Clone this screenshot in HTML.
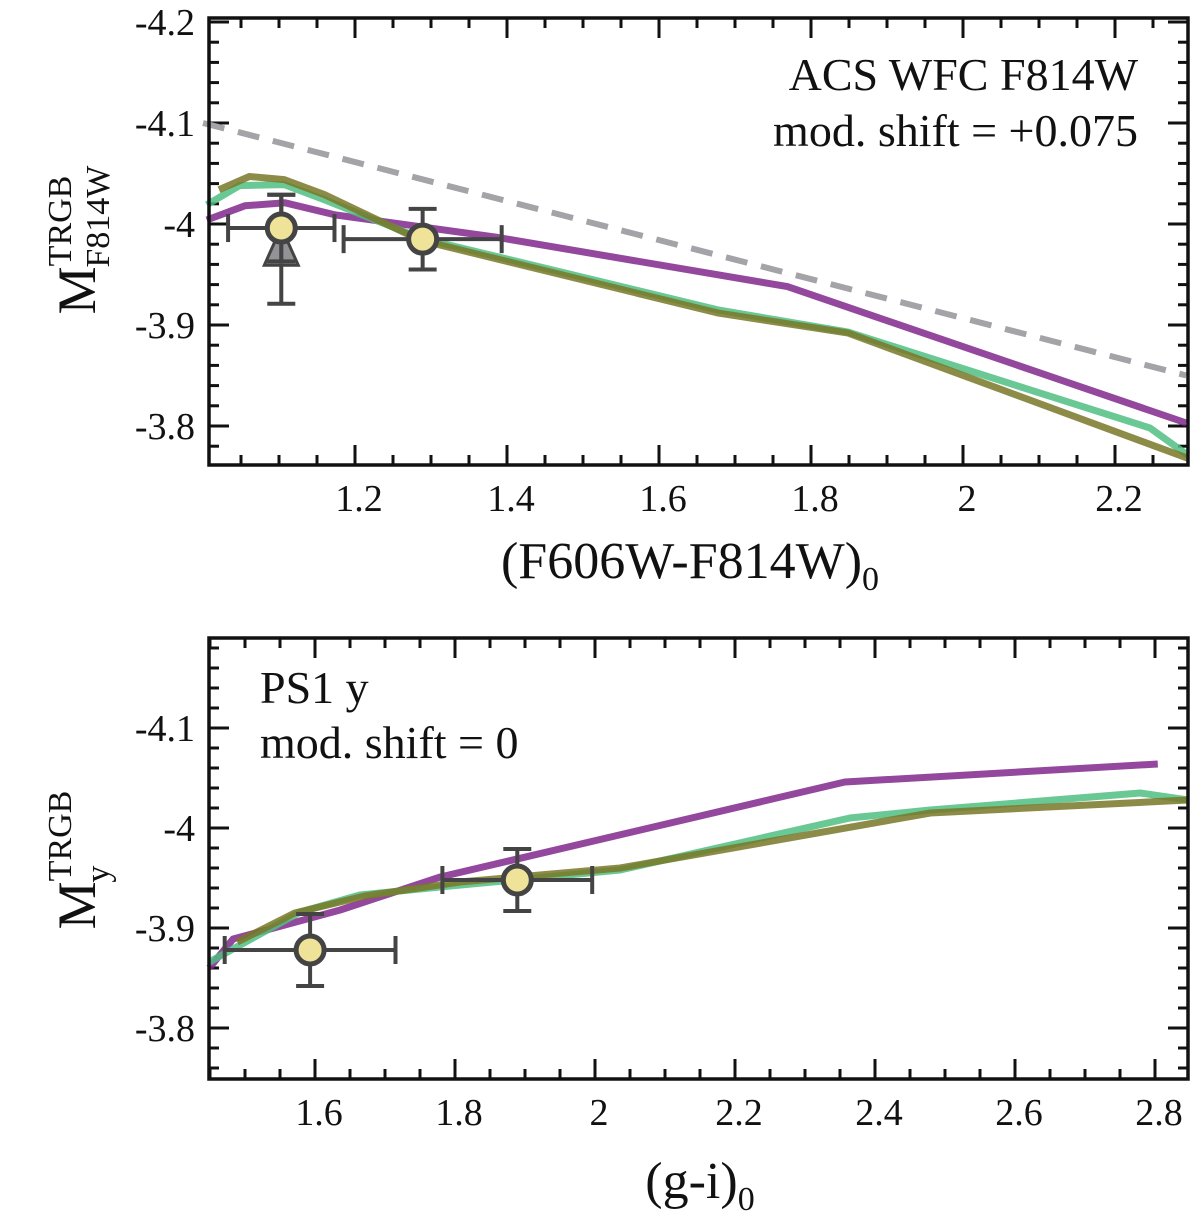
<!DOCTYPE html>
<html><head><meta charset="utf-8"><style>
body{margin:0;background:#fff;}
svg text{font-family:"Liberation Serif",serif;fill:#111;}
</style></head><body>
<svg id="fig" width="1200" height="1214" viewBox="0 0 1200 1214" xmlns="http://www.w3.org/2000/svg" style="position:absolute;left:0;top:0"></svg>
<script>
// ---- Top panel data (F606W-F814W vs M_F814W)
const topPurpleX=[1.005,1.055,1.108,1.174,1.385,1.769,2.294];
const topPurpleY=[-4.004,-4.018,-4.021,-4.009,-3.987,-3.938,-3.803];
const topGreenX=[1.005,1.048,1.107,1.16,1.286,1.677,1.849,2.246,2.296];
const topGreenY=[-4.019,-4.038,-4.039,-4.024,-3.986,-3.915,-3.893,-3.798,-3.771];
const topOliveX=[1.021,1.061,1.107,1.16,1.286,1.677,1.849,2.296];
const topOliveY=[-4.034,-4.047,-4.044,-4.029,-3.984,-3.912,-3.892,-3.768];
const topDashX=[1.0,2.294];
const topDashY=[-4.1,-3.85];
const topPtsX=[1.103,1.289];
const topPtsY=[-3.996,-3.985];
const topPtsXerr=[0.07,0.104];
const topPtsYerr=[0.033,0.03];
const topTriX=[1.103];
const topTriY=[-3.975];
const topTriYerr=[0.054];
const topXTicks=[1.2,1.4,1.6,1.8,2,2.2];
const topYTicks=[-4.2,-4.1,-4,-3.9,-3.8];
const topXLabels=["1.2","1.4","1.6","1.8","2","2.2"];
const topYLabels=["-4.2","-4.1","-4","-3.9","-3.8"];
// ---- Bottom panel data (g-i vs M_y)
const botPurpleX=[1.449,1.483,1.636,1.779,2.357,2.804];
const botPurpleY=[-3.86,-3.889,-3.918,-3.951,-4.046,-4.064];
const botGreenX=[1.449,1.579,1.664,1.793,2.036,2.364,2.479,2.779,2.847];
const botGreenY=[-3.866,-3.916,-3.933,-3.942,-3.958,-4.01,-4.018,-4.035,-4.028];
const botOliveX=[1.489,1.571,1.671,1.807,2.036,2.479,2.847];
const botOliveY=[-3.886,-3.915,-3.932,-3.946,-3.96,-4.015,-4.028];
const botPtsX=[1.593,1.889];
const botPtsY=[-3.878,-3.948];
const botPtsXerr=[0.122,0.107];
const botPtsYerr=[0.036,0.031];
const botXTicks=[1.6,1.8,2,2.2,2.4,2.6,2.8];
const botYTicks=[-4.1,-4,-3.9,-3.8];
const botXLabels=["1.6","1.8","2","2.2","2.4","2.6","2.8"];
const botYLabels=["-4.1","-4","-3.9","-3.8"];

const NS="http://www.w3.org/2000/svg";
const svg=document.getElementById('fig');
function mk(tag,attrs,parent){const e=document.createElementNS(NS,tag);for(const k in attrs)e.setAttribute(k,attrs[k]);(parent||svg).appendChild(e);return e;}

function panel(cfg){
  const g=mk('g',{});
  
  
  const sx=v=>cfg.L+(v-cfg.x0)*cfg.kx;
  const sy=v=>cfg.T+(v-cfg.y0)*cfg.ky;
  const tk=mk('g',{stroke:'#111','stroke-width':3},g);
  
  
  const xmin=cfg.x0, xmax=cfg.x0+(cfg.R-cfg.L)/cfg.kx;
  for(let i=Math.ceil(xmin/0.05);i*0.05<=xmax;i++){
    const v=i*0.05, x=sx(v), major=Math.abs(v*5-Math.round(v*5))<1e-6, len=major?20:10;
    mk('line',{x1:x,y1:cfg.B,x2:x,y2:cfg.B-len},tk);mk('line',{x1:x,y1:cfg.T,x2:x,y2:cfg.T+len},tk);
  }
  const ymin=cfg.y0, ymax=cfg.y0+(cfg.B-cfg.T)/cfg.ky;
  for(let i=Math.ceil(ymin/0.02-1e-6);i*0.02<=ymax+1e-9;i++){
    const v=i*0.02, y=sy(v), major=Math.abs(v*10-Math.round(v*10))<1e-6, len=major?20:10;
    mk('line',{x1:cfg.L,y1:y,x2:cfg.L+len,y2:y},tk);mk('line',{x1:cfg.R,y1:y,x2:cfg.R-len,y2:y},tk);
  }
  cfg.xt.forEach((v,i)=>{const t=mk('text',{x:sx(v)+4,y:cfg.B+46,'font-size':38,'text-anchor':'middle'},g);t.textContent=cfg.xl[i];
    
    });
  cfg.yt.forEach((v,i)=>{const t=mk('text',{x:cfg.L-14,y:sy(v)+13,'font-size':38,'text-anchor':'end'},g);t.textContent=cfg.yl[i];
    
    });
  const line=(xs,ys,col,name,extra)=>{const d=xs.map((x,i)=>(i?'L':'M')+sx(x).toFixed(1)+','+sy(ys[i]).toFixed(1)).join('');
    const p=mk('path',Object.assign({d,fill:'none',stroke:col,'stroke-width':7,'stroke-linejoin':'round'},extra||{}),g);
    
    };
  if(cfg.dash){line(cfg.dash[0],cfg.dash[1],'#a3a3a8','reference-dashed-line',{'stroke-dasharray':'22 14','stroke-width':6});}
  line(cfg.purple[0],cfg.purple[1],'rgba(128,40,140,0.85)','model-line-purple');
  line(cfg.green[0],cfg.green[1],'rgba(80,190,130,0.85)','model-line-green');
  line(cfg.olive[0],cfg.olive[1],'rgba(120,120,40,0.85)','model-line-olive');
  if(cfg.tri){cfg.tri[0].forEach((x,i)=>{const cx=sx(x),cy=sy(cfg.tri[1][i]);
    const eb=mk('g',{stroke:'#444','stroke-width':4},g);
    
    
    const y1=sy(cfg.tri[1][i]-cfg.tri[2][i]),y2=sy(cfg.tri[1][i]+cfg.tri[2][i]);
    mk('line',{x1:cx,y1:y1,x2:cx,y2:y2},eb);mk('line',{x1:cx-14,y1:y1,x2:cx+14,y2:y1},eb);mk('line',{x1:cx-14,y1:y2,x2:cx+14,y2:y2},eb);
    const tp=mk('polygon',{points:`${cx},${cy-22} ${cx-17},${cy+16} ${cx+17},${cy+16}`,fill:'rgba(120,120,125,0.8)',stroke:'#444','stroke-width':3},g);
    
    });}
  cfg.pts[0].forEach((x,i)=>{const y=cfg.pts[1][i],cx=sx(x),cy=sy(y);
    const eb=mk('g',{stroke:'#444','stroke-width':4},g);
    
    
    const x1=sx(x-cfg.pts[2][i]),x2=sx(x+cfg.pts[2][i]),y1=sy(y-cfg.pts[3][i]),y2=sy(y+cfg.pts[3][i]);
    mk('line',{x1,y1:cy,x2,y2:cy},eb);mk('line',{x1:cx,y1,x2:cx,y2},eb);
    mk('line',{x1:x1,y1:cy-14,x2:x1,y2:cy+14},eb);mk('line',{x1:x2,y1:cy-14,x2:x2,y2:cy+14},eb);
    mk('line',{x1:cx-14,y1:y1,x2:cx+14,y2:y1},eb);mk('line',{x1:cx-14,y1:y2,x2:cx+14,y2:y2},eb);
    const c=mk('circle',{cx,cy,r:14,fill:'#efe39a',stroke:'#444','stroke-width':5},g);
    
    });
  const fr=mk('rect',{x:cfg.L,y:cfg.T,width:cfg.R-cfg.L,height:cfg.B-cfg.T,fill:'none',stroke:'#111','stroke-width':3.5},g);
  
  
}
panel({name:'top-panel',L:209,R:1188,T:18,B:465,x0:1.2+(209-355)/760,kx:760,y0:-4.1-(123-18)/1010,ky:1010,
  xt:topXTicks,xl:topXLabels,yt:topYTicks,yl:topYLabels,dash:[topDashX,topDashY],
  purple:[topPurpleX,topPurpleY],green:[topGreenX,topGreenY],olive:[topOliveX,topOliveY],
  pts:[topPtsX,topPtsY,topPtsXerr,topPtsYerr],tri:[topTriX,topTriY,topTriYerr]});
panel({name:'bottom-panel',L:209,R:1188,T:638,B:1079,x0:1.6+(209-315)/700,kx:700,y0:-4.1-(728-638)/1000,ky:1000,
  xt:botXTicks,xl:botXLabels,yt:botYTicks,yl:botYLabels,
  purple:[botPurpleX,botPurpleY],green:[botGreenX,botGreenY],olive:[botOliveX,botOliveY],
  pts:[botPtsX,botPtsY,botPtsXerr,botPtsYerr]});
</script>
<svg width="1200" height="1214" xmlns="http://www.w3.org/2000/svg" style="position:absolute;left:0;top:0;pointer-events:none">
<g font-family="Liberation Serif, serif" fill="#111">
<text x="690" y="578" font-size="52" text-anchor="middle">(F606W-F814W)<tspan font-size="34" dy="12">0</tspan></text>
<text x="700" y="1198" font-size="52" text-anchor="middle">(g-i)<tspan font-size="34" dy="12">0</tspan></text>
<g transform="translate(95,240) rotate(-90)"><text text-anchor="middle" font-size="54">M<tspan font-size="34" dy="-24">TRGB</tspan><tspan font-size="34" dx="-92" dy="38">F814W</tspan></text></g>
<g transform="translate(95,860) rotate(-90)"><text text-anchor="middle" font-size="54">M<tspan font-size="34" dy="-24">TRGB</tspan><tspan font-size="34" dx="-92" dy="38">y</tspan></text></g>
<text x="1138" y="90" font-size="46" text-anchor="end">ACS WFC F814W</text>
<text x="1138" y="146" font-size="46" text-anchor="end">mod. shift = +0.075</text>
<text x="260" y="703" font-size="46">PS1 y</text>
<text x="260" y="758" font-size="46">mod. shift = 0</text>
</g></svg>
</body></html>
